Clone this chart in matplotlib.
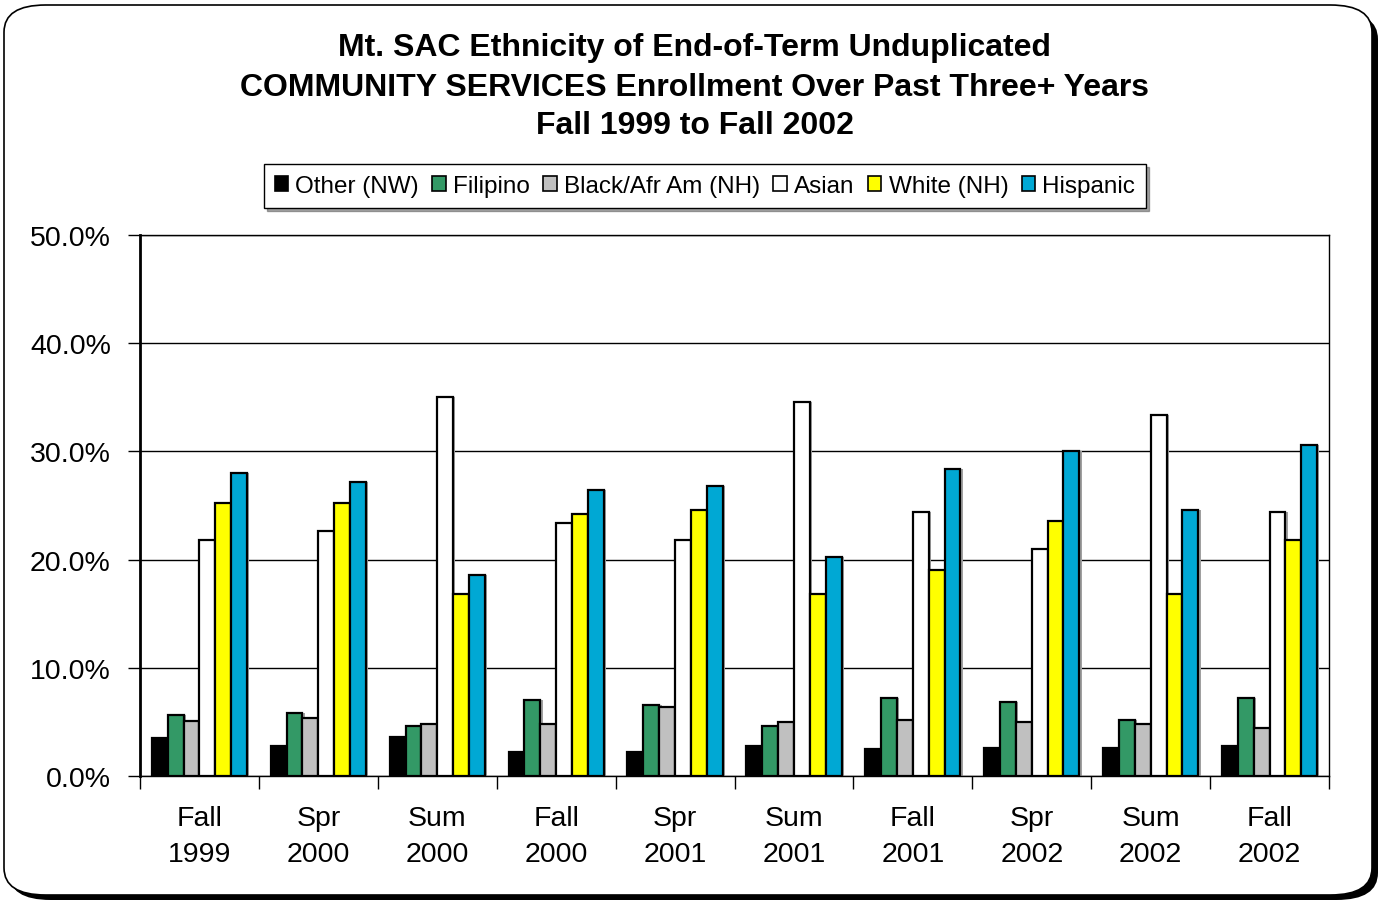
import matplotlib
matplotlib.use("Agg")
import matplotlib.pyplot as plt
import numpy as np
from matplotlib.patches import FancyBboxPatch, Patch
from matplotlib.ticker import FuncFormatter, FixedLocator

plt.rcParams['font.family'] = ['Liberation Sans', 'DejaVu Sans']

terms = ["Fall\n1999", "Spr\n2000", "Sum\n2000", "Fall\n2000", "Spr\n2001",
         "Sum\n2001", "Fall\n2001", "Spr\n2002", "Sum\n2002", "Fall\n2002"]
series_names = ["Other (NW)", "Filipino", "Black/Afr Am (NH)", "Asian", "White (NH)", "Hispanic"]
other    = [3.5, 2.8, 3.6, 2.2, 2.2, 2.8, 2.5, 2.6, 2.6, 2.8]
filipino = [5.6, 5.8, 4.6, 7.0, 6.6, 4.6, 7.2, 6.8, 5.2, 7.2]
black    = [5.1, 5.4, 4.8, 4.8, 6.4, 5.0, 5.2, 5.0, 4.8, 4.4]
asian    = [21.8, 22.6, 35.0, 23.4, 21.8, 34.6, 24.4, 21.0, 33.4, 24.4]
white    = [25.2, 25.2, 16.8, 24.2, 24.6, 16.8, 19.0, 23.6, 16.8, 21.8]
hispanic = [28.0, 27.2, 18.6, 26.4, 26.8, 20.2, 28.4, 30.0, 24.6, 30.6]
colors = ["#000000", "#339966", "#C0C0C0", "#FFFFFF", "#FFFF00", "#00A8D4"]

W, H = 1389, 904
fig = plt.figure(figsize=(W / 100, H / 100), dpi=100)
fig.patch.set_facecolor("white")

# outer rounded border with shadow
shadow = FancyBboxPatch((9 / W, 3 / H), (1378 - 9) / W, (897 - 9) / H,
                        boxstyle="round,pad=0,rounding_size=0.03",
                        transform=fig.transFigure, facecolor="black",
                        edgecolor="black", lw=0, zorder=0)
border = FancyBboxPatch((4 / W, 8 / H), (1372 - 4) / W, (898 - 8) / H,
                        boxstyle="round,pad=0,rounding_size=0.03",
                        transform=fig.transFigure, facecolor="white",
                        edgecolor="black", lw=1.2, zorder=1)
fig.patches.extend([shadow, border])

ax = fig.add_axes([140 / W, 1 - 777 / H, (1329 - 140) / W, (777 - 236) / H])
ax.set_zorder(2)
ax.set_facecolor("white")

data = [other, filipino, black, asian, white, hispanic]
n = len(terms)
x = np.arange(n)
bw = 0.8 / 6
for i, (vals, c, name) in enumerate(zip(data, colors, series_names)):
    pos = x - 0.4 + bw * (i + 0.5)
    ax.bar(pos + 0.02, vals, width=bw, color="#A0A0A0", edgecolor="none", zorder=2)
    ax.bar(pos, vals, width=bw, color=c, edgecolor="black", linewidth=1.6, zorder=3)

ax.set_xlim(-0.5, n - 0.5)
ax.set_ylim(0, 50)
ax.set_yticks(np.arange(0, 51, 10))
ax.yaxis.set_major_formatter(FuncFormatter(lambda v, p: f"{v:.1f}%"))
ax.yaxis.grid(True, color="black", linewidth=1.0, zorder=0)
ax.set_axisbelow(True)

ax.set_xticks(x)
ax.set_xticklabels(terms, fontsize=20.5, linespacing=1.5)
ax.tick_params(axis="x", which="major", length=0, pad=21)
ax.xaxis.set_minor_locator(FixedLocator(np.arange(-0.5, n, 1.0)))
ax.tick_params(axis="x", which="minor", length=9, width=1, direction="out")
ax.tick_params(axis="y", labelsize=20.5, length=9, width=1, direction="out", pad=12)

for s in ["top", "right", "bottom"]:
    ax.spines[s].set_linewidth(1.0)
ax.spines["left"].set_linewidth(2.0)

fig.text(0.5, 1 - 48 / H, "Mt. SAC Ethnicity of End-of-Term Unduplicated",
         ha="center", va="center", fontsize=23, fontweight="bold")
fig.text(0.5, 1 - 88 / H, "COMMUNITY SERVICES Enrollment Over Past Three+ Years",
         ha="center", va="center", fontsize=23, fontweight="bold")
fig.text(0.5, 1 - 126 / H, "Fall 1999 to Fall 2002",
         ha="center", va="center", fontsize=23, fontweight="bold")

handles = [Patch(facecolor=c, edgecolor="black", linewidth=1.2) for c in colors]
leg = fig.legend(handles, series_names, loc="center", ncol=6,
                 bbox_to_anchor=(705 / W, 1 - 187 / H), fontsize=17.5,
                 frameon=True, fancybox=False, shadow=True,
                 handlelength=0.55, handleheight=0.55, handletextpad=0.3,
                 columnspacing=0.55, borderpad=0.45, edgecolor="black")
leg.get_frame().set_linewidth(1.0)
leg.set_zorder(5)

fig.savefig("out.png", dpi=100, facecolor="white")
